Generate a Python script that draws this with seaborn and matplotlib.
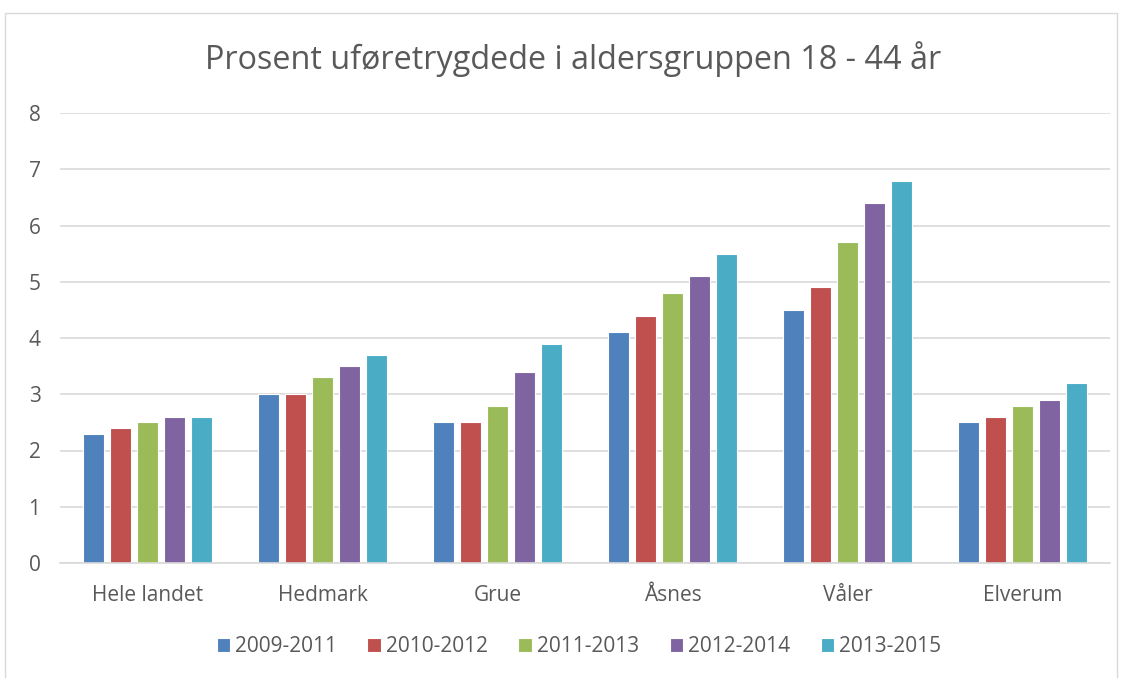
import matplotlib
matplotlib.use("Agg")
import matplotlib.pyplot as plt
import seaborn as sns
import pandas as pd
from matplotlib.patches import Rectangle

categories = ["Hele landet", "Hedmark", "Grue", "Åsnes", "Våler", "Elverum"]
periods = ["2009-2011", "2010-2012", "2011-2013", "2012-2014", "2013-2015"]
v_2009_2011 = [2.3, 3.0, 2.5, 4.1, 4.5, 2.5]
v_2010_2012 = [2.4, 3.0, 2.5, 4.4, 4.9, 2.6]
v_2011_2013 = [2.5, 3.3, 2.8, 4.8, 5.7, 2.8]
v_2012_2014 = [2.6, 3.5, 3.4, 5.1, 6.4, 2.9]
v_2013_2015 = [2.6, 3.7, 3.9, 5.5, 6.8, 3.2]
series = [v_2009_2011, v_2010_2012, v_2011_2013, v_2012_2014, v_2013_2015]
colors = ["#4F81BD", "#C0504D", "#9BBB59", "#8064A2", "#4BACC6"]
yticks = [0, 1, 2, 3, 4, 5, 6, 7, 8]

rows = []
for p, vals in zip(periods, series):
    for c, v in zip(categories, vals):
        rows.append({"Område": c, "Periode": p, "Prosent": v})
df = pd.DataFrame(rows)

sns.set_theme(style="white")
plt.rcParams["font.family"] = ["Open Sans", "DejaVu Sans"]
text_color = "#595959"
grid_color = "#D9D9D9"

fig = plt.figure(figsize=(11.23, 6.78), dpi=100)
fig.patches.append(Rectangle((5 / 1123, -0.01), 1112 / 1123, (678 - 13) / 678 + 0.01,
                             transform=fig.transFigure, fill=False,
                             edgecolor=grid_color, linewidth=1))
ax = fig.add_axes([60 / 1123, 115 / 678, 1050 / 1123, 450 / 678])

sns.barplot(data=df, x="Område", y="Prosent", hue="Periode", order=categories,
            hue_order=periods, palette=colors, width=0.77, gap=0.2,
            saturation=1, edgecolor="white", linewidth=0.8, ax=ax, legend=True)

ax.set_ylim(0, 8)
ax.set_yticks(yticks)
ax.set_yticklabels([str(t) for t in yticks])
ax.yaxis.grid(True, color=grid_color, linewidth=1.2)
ax.set_axisbelow(True)
for s in ["top", "right", "left"]:
    ax.spines[s].set_visible(False)
ax.spines["bottom"].set_color(grid_color)
ax.spines["bottom"].set_linewidth(1.2)
ax.tick_params(axis="both", length=0, colors=text_color, labelsize=15)
ax.tick_params(axis="x", pad=16)
ax.tick_params(axis="y", pad=14)
ax.set_xlabel("")
ax.set_ylabel("")

fig.text(573 / 1123, 1 - 59 / 678, "Prosent uføretrygdede i aldersgruppen 18 - 44 år",
         ha="center", va="center", fontsize=23.3, color=text_color)

handles, labels = ax.get_legend_handles_labels()
ax.legend_.remove()
fig.legend(handles, labels, loc="center", bbox_to_anchor=(579 / 1123, 1 - 647 / 678),
           ncol=5, frameon=False, fontsize=15, handlelength=0.65, handleheight=0.65,
           handletextpad=0.25, columnspacing=1.45, labelcolor=text_color)

fig.savefig("out.png", dpi=100)
